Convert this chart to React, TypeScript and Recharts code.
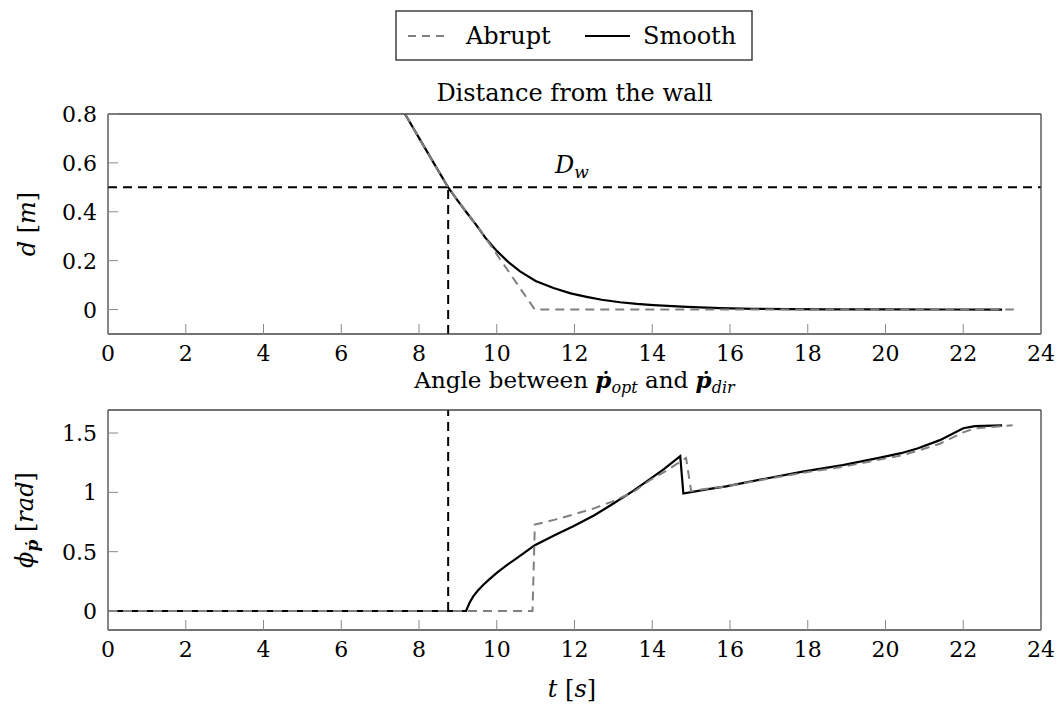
import React from "react";
import { LineChart, Line, XAxis, YAxis, ReferenceLine } from "recharts";

// ---------------------------------------------------------------------------
// Data
// ---------------------------------------------------------------------------
const xTicks = [0, 2, 4, 6, 8, 10, 12, 14, 16, 18, 20, 22, 24];
const distTicks = [0, 0.2, 0.4, 0.6, 0.8];
const angleTicks = [0, 0.5, 1, 1.5];

const wallDistance = 0.5; // D_w
const switchTime = 8.75;

// distance from the wall, smooth
const distSmoothT = [0, 2, 4, 6, 7, 7.64, 8.03, 8.4, 8.75, 9.0, 9.25, 9.5, 9.7, 10.0, 10.3, 10.6, 11.0, 11.46, 11.9, 12.31, 12.7, 13.17, 13.6, 14.03, 14.89, 15.74, 16.6, 17.5, 18.5, 20, 21.5, 23];
const distSmoothD = [2.86, 2.32, 1.78, 1.24, 0.97, 0.8, 0.694, 0.594, 0.5, 0.445, 0.392, 0.34, 0.295, 0.24, 0.194, 0.156, 0.117, 0.088, 0.066, 0.052, 0.04, 0.03, 0.023, 0.018, 0.011, 0.006, 0.003, 0.002, 0.001, 0.0005, 0.0002, 0];

// distance from the wall, abrupt
const distAbruptT = [0, 2, 4, 6, 7, 7.64, 8.03, 8.4, 8.75, 9.0, 9.25, 9.5, 9.7, 10.98, 23.3];
const distAbruptD = [2.86, 2.32, 1.78, 1.24, 0.97, 0.8, 0.694, 0.594, 0.5, 0.445, 0.392, 0.34, 0.295, 0, 0];

// angle, smooth
const angSmoothT = [0, 9.21, 9.3, 9.4, 9.51, 9.65, 9.8, 10.0, 10.25, 10.49, 10.75, 10.98, 11.5, 11.97, 12.5, 12.95, 13.5, 13.93, 14.3, 14.72, 14.8, 15.4, 15.9, 16.9, 17.87, 18.9, 19.83, 20.4, 20.82, 21.4, 22.0, 22.3, 23.0];
const angSmoothV = [0, 0, 0.07, 0.125, 0.17, 0.22, 0.265, 0.322, 0.385, 0.44, 0.5, 0.555, 0.64, 0.714, 0.805, 0.895, 1.01, 1.11, 1.195, 1.305, 0.99, 1.025, 1.05, 1.115, 1.175, 1.23, 1.29, 1.33, 1.37, 1.44, 1.54, 1.558, 1.565];

// angle, abrupt
const angAbruptT = [0, 10.92, 10.98, 11.5, 11.97, 12.5, 12.95, 13.5, 13.93, 14.4, 14.87, 15.0, 15.4, 15.9, 16.9, 17.87, 18.9, 19.83, 20.4, 20.82, 21.4, 22.0, 22.3, 23.27];
const angAbruptV = [0, 0, 0.728, 0.77, 0.813, 0.865, 0.92, 1.0, 1.1, 1.19, 1.29, 1.01, 1.03, 1.05, 1.11, 1.165, 1.215, 1.275, 1.31, 1.35, 1.41, 1.505, 1.54, 1.565];

const zip = (t: number[], v: number[]) => t.map((x, i) => ({ t: x, v: v[i] }));

// ---------------------------------------------------------------------------
// Styling
// ---------------------------------------------------------------------------
const FONT = "'DejaVu Serif', serif";
const FS = 24;
const TICK_FS = 22;
const TICK_LEN = 10;
const TICK_COLOR = "#8a8a8a";
const AXIS = { stroke: "#444", strokeWidth: 1.3 };
const GRAY = "#808080";
const DASH = "9 6";

function BottomTick({ x, y, payload }: any) {
  return (
    <g>
      <line x1={x} x2={x} y1={y} y2={y - TICK_LEN} stroke={TICK_COLOR} />
      <text x={x} y={y + 27} textAnchor="middle" fontFamily={FONT} fontSize={TICK_FS} fill="#000">
        {String(payload.value)}
      </text>
    </g>
  );
}

function TopTick({ x, y }: any) {
  return <line x1={x} x2={x} y1={y} y2={y + TICK_LEN} stroke={TICK_COLOR} />;
}

function LeftTick({ x, y, payload }: any) {
  return (
    <g>
      <line x1={x} x2={x + TICK_LEN} y1={y} y2={y} stroke={TICK_COLOR} />
      <text x={x - 11} y={y + 8} textAnchor="end" fontFamily={FONT} fontSize={TICK_FS} fill="#000">
        {String(payload.value)}
      </text>
    </g>
  );
}

function RightTick({ x, y }: any) {
  return <line x1={x} x2={x - TICK_LEN} y1={y} y2={y} stroke={TICK_COLOR} />;
}

const axisCommon = {
  tickLine: false,
  tickSize: 0,
  tickMargin: 0,
  interval: 0 as const,
  axisLine: AXIS,
};

// four axes drawn as a closed frame with inward ticks, like the original
function frameAxes(yTicks: number[], yDomain: [number, number]) {
  return [
    <XAxis key="xb" xAxisId="x" type="number" dataKey="t" domain={[0, 24]} ticks={xTicks} height={1} orientation="bottom" tick={<BottomTick />} allowDataOverflow {...axisCommon} />,
    <XAxis key="xt" xAxisId="xt" type="number" dataKey="t" domain={[0, 24]} ticks={xTicks} height={1} orientation="top" tick={<TopTick />} {...axisCommon} />,
    <YAxis key="yl" yAxisId="y" type="number" dataKey="v" domain={yDomain} ticks={yTicks} width={1} orientation="left" tick={<LeftTick />} allowDataOverflow {...axisCommon} />,
    <YAxis key="yr" yAxisId="yr" type="number" dataKey="v" domain={yDomain} ticks={yTicks} width={1} orientation="right" tick={<RightTick />} {...axisCommon} />,
  ];
}

export default function App() {
  const distDomain: [number, number] = [-0.1, 0.8];
  const angDomain: [number, number] = [-0.16, 1.694];

  return (
    <div style={{ position: "absolute", left: 0, top: 0, width: 1057, height: 706, background: "#fff", fontFamily: FONT }}>
      {/* distance from the wall */}
      <div style={{ position: "absolute", left: 0, top: 0 }}>
        <LineChart width={1057} height={372} margin={{ top: 113, right: 15, bottom: 37, left: 107 }}>
          {frameAxes(distTicks, distDomain)}
          <ReferenceLine xAxisId="x" yAxisId="y" y={wallDistance} stroke="#000" strokeWidth={2} strokeDasharray={DASH} />
          <ReferenceLine
            xAxisId="x"
            yAxisId="y"
            segment={[
              { x: switchTime, y: -0.1 },
              { x: switchTime, y: wallDistance },
            ]}
            stroke="#000"
            strokeWidth={2}
            strokeDasharray={DASH}
          />
          <Line xAxisId="x" yAxisId="y" data={zip(distSmoothT, distSmoothD)} dataKey="v" type="linear" stroke="#000" strokeWidth={2.2} dot={false} isAnimationActive={false} />
          <Line xAxisId="x" yAxisId="y" data={zip(distAbruptT, distAbruptD)} dataKey="v" type="linear" stroke={GRAY} strokeWidth={2} strokeDasharray={DASH} dot={false} isAnimationActive={false} />
        </LineChart>
      </div>

      {/* angle between p_opt and p_dir */}
      <div style={{ position: "absolute", left: 0, top: 372 }}>
        <LineChart width={1057} height={334} margin={{ top: 37, right: 15, bottom: 75, left: 107 }}>
          {frameAxes(angleTicks, angDomain)}
          <ReferenceLine
            xAxisId="x"
            yAxisId="y"
            segment={[
              { x: switchTime, y: 0 },
              { x: switchTime, y: 1.694 },
            ]}
            stroke="#000"
            strokeWidth={2}
            strokeDasharray={DASH}
          />
          <Line xAxisId="x" yAxisId="y" data={zip(angSmoothT, angSmoothV)} dataKey="v" type="linear" stroke="#000" strokeWidth={2.2} dot={false} isAnimationActive={false} />
          <Line xAxisId="x" yAxisId="y" data={zip(angAbruptT, angAbruptV)} dataKey="v" type="linear" stroke={GRAY} strokeWidth={2} strokeDasharray={DASH} dot={false} isAnimationActive={false} />
        </LineChart>
      </div>

      {/* texts, legend */}
      <svg width={1057} height={706} style={{ position: "absolute", left: 0, top: 0, pointerEvents: "none" }} fontFamily={FONT} fontSize={FS}>
        <rect x={396} y={11} width={356} height={49} fill="#fff" stroke="#222" strokeWidth={1.3} />
        <line x1={408} x2={450} y1={36} y2={36} stroke={GRAY} strokeWidth={2} strokeDasharray="8 6" />
        <text x={466} y={44}>Abrupt</text>
        <line x1={585} x2={630} y1={36} y2={36} stroke="#000" strokeWidth={2.2} />
        <text x={643} y={44}>Smooth</text>

        <text x={574.5} y={101} textAnchor="middle">Distance from the wall</text>
        <text x={574.5} y={388} textAnchor="middle" fontSize={23}>
          Angle between{" "}
          <tspan fontWeight="bold" fontStyle="italic">ṗ</tspan>
          <tspan fontStyle="italic" fontSize={16} dy={5}>opt</tspan>
          <tspan dy={-5}> and </tspan>
          <tspan fontWeight="bold" fontStyle="italic">ṗ</tspan>
          <tspan fontStyle="italic" fontSize={16} dy={5}>dir</tspan>
        </text>

        <text x={555} y={173}>
          <tspan fontStyle="italic">D</tspan>
          <tspan fontStyle="italic" fontSize={17} dy={5}>w</tspan>
        </text>

        <text transform="translate(35,224) rotate(-90)" textAnchor="middle">
          <tspan fontStyle="italic">d</tspan> [<tspan fontStyle="italic">m</tspan>]
        </text>
        <text transform="translate(33,520) rotate(-90)" textAnchor="middle">
          <tspan fontStyle="italic">ϕ</tspan>
          <tspan fontWeight="bold" fontStyle="italic" fontSize={17} dy={5}>ṗ</tspan>
          <tspan dy={-5}> [</tspan>
          <tspan fontStyle="italic">rad</tspan>]
        </text>

        <text x={572} y={697} textAnchor="middle">
          <tspan fontStyle="italic">t</tspan> [<tspan fontStyle="italic">s</tspan>]
        </text>
      </svg>
    </div>
  );
}
